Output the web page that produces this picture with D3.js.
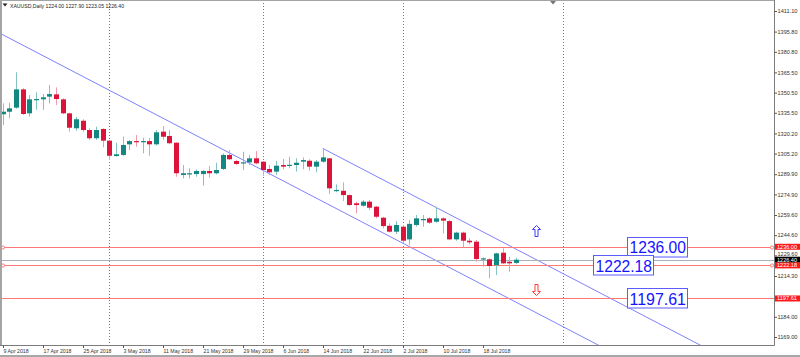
<!DOCTYPE html>
<html><head><meta charset="utf-8">
<script src="https://cdn.jsdelivr.net/npm/d3@7"></script>
<style>html,body{margin:0;padding:0;background:#fff;}svg{display:block;}</style>
</head><body><svg id="c" width="800" height="357"></svg>
<script>
// ---------- data ----------
const dates = [
"9 Apr 2018","10 Apr 2018","11 Apr 2018","12 Apr 2018","13 Apr 2018","16 Apr 2018","17 Apr 2018","18 Apr 2018","19 Apr 2018","20 Apr 2018",
"23 Apr 2018","24 Apr 2018","25 Apr 2018","26 Apr 2018","27 Apr 2018","30 Apr 2018",
"1 May 2018","2 May 2018","3 May 2018","4 May 2018","7 May 2018","8 May 2018","9 May 2018","10 May 2018","11 May 2018","14 May 2018",
"15 May 2018","16 May 2018","17 May 2018","18 May 2018","21 May 2018","22 May 2018","23 May 2018","24 May 2018","25 May 2018","28 May 2018",
"29 May 2018","30 May 2018","31 May 2018",
"1 Jun 2018","4 Jun 2018","5 Jun 2018","6 Jun 2018","7 Jun 2018","8 Jun 2018","11 Jun 2018","12 Jun 2018","13 Jun 2018","14 Jun 2018",
"15 Jun 2018","18 Jun 2018","19 Jun 2018","20 Jun 2018","21 Jun 2018","22 Jun 2018","25 Jun 2018","26 Jun 2018","27 Jun 2018","28 Jun 2018","29 Jun 2018",
"2 Jul 2018","3 Jul 2018","4 Jul 2018","5 Jul 2018","6 Jul 2018","9 Jul 2018","10 Jul 2018","11 Jul 2018","12 Jul 2018","13 Jul 2018",
"16 Jul 2018","17 Jul 2018","18 Jul 2018","19 Jul 2018","20 Jul 2018","23 Jul 2018","24 Jul 2018","25 Jul 2018"];
const opens = [1334.4,1336.3,1339.3,1352.9,1335.1,1345.0,1345.5,1347.5,1349.2,1345.5,
1335.1,1324.0,1329.6,1322.7,1316.6,1323.5,1314.8,1303.4,1304.2,1312.1,
1314.5,1313.6,1314.5,1312.1,1321.5,1318.3,1313.3,1289.3,1289.8,1290.0,
1290.0,1292.3,1290.6,1293.8,1304.2,1299.7,1298.0,1298.7,1301.7,1299.2,
1293.8,1291.8,1296.7,1296.2,1296.7,1299.2,1299.9,1295.5,1299.2,1301.7,
1277.4,1277.6,1274.4,1268.3,1266.5,1269.5,1265.8,1257.6,1251.6,1247.2,
1250.9,1241.5,1252.2,1255.9,1257.1,1254.6,1257.1,1255.1,1241.5,1246.5,
1240.5,1239.8,1226.7,1226.7,1222.4,1231.6,1224.9,1224.00];
const highs = [1342.5,1343.0,1365.6,1353.7,1348.7,1350.7,1349.4,1356.1,1354.4,1346.3,
1335.6,1332.6,1330.7,1324.0,1325.2,1324.0,1315.3,1313.3,1317.7,1315.3,
1319.0,1317.0,1316.6,1322.7,1325.7,1322.7,1313.5,1296.7,1294.3,1293.5,
1293.0,1296.0,1298.4,1305.4,1307.9,1300.4,1306.6,1304.2,1307.1,1299.7,
1296.7,1299.9,1301.2,1302.9,1301.7,1302.4,1301.0,1300.4,1309.1,1301.9,
1282.4,1283.9,1274.8,1269.5,1270.7,1270.7,1266.3,1258.3,1253.4,1255.1,
1252.2,1255.9,1259.6,1259.6,1257.9,1265.8,1257.9,1255.9,1247.2,1247.2,
1242.3,1241.0,1228.2,1227.4,1231.6,1234.9,1228.6,1227.90];
const lows = [1326.4,1331.4,1338.5,1333.9,1332.6,1337.6,1337.6,1342.5,1341.3,1334.6,
1321.5,1322.2,1321.5,1315.3,1315.3,1309.9,1300.4,1302.9,1303.6,1307.9,
1310.3,1305.4,1303.6,1311.1,1315.3,1312.1,1288.0,1286.8,1286.8,1288.0,
1281.4,1287.3,1289.8,1293.0,1300.4,1296.7,1293.0,1296.7,1297.2,1288.6,
1289.3,1289.3,1293.5,1294.3,1291.8,1293.5,1292.5,1291.3,1298.4,1275.2,
1276.5,1270.0,1266.5,1260.9,1265.8,1263.3,1257.1,1249.7,1246.5,1245.5,
1238.6,1237.3,1250.9,1250.9,1253.0,1253.9,1245.9,1240.8,1240.5,1235.6,
1237.8,1224.9,1221.2,1212.6,1215.0,1223.2,1217.5,1223.05];
const closes = [1336.3,1338.8,1352.9,1334.6,1345.5,1345.7,1347.0,1349.4,1345.7,1335.1,
1324.4,1330.7,1322.7,1316.6,1322.7,1314.8,1303.6,1304.7,1311.6,1314.5,
1314.0,1314.5,1312.1,1321.0,1317.7,1312.9,1290.6,1290.6,1290.6,1292.3,
1292.3,1290.6,1293.0,1304.2,1301.0,1297.5,1298.7,1301.7,1298.0,1293.0,
1291.3,1296.2,1295.5,1296.9,1298.4,1300.4,1295.5,1299.2,1302.4,1279.4,
1278.2,1274.4,1267.0,1267.0,1269.5,1265.0,1258.3,1251.4,1247.2,1252.2,
1240.5,1253.0,1257.1,1256.6,1253.9,1257.1,1255.4,1241.5,1246.5,1240.5,
1239.3,1226.9,1227.4,1221.7,1231.1,1223.7,1223.7,1226.40];
const dateTickIdx = [0,6,12,18,24,30,36,42,48,54,60,66,72];
const priceTicks = [1411.10,1395.80,1380.80,1365.50,1350.50,1335.50,1320.20,1305.20,1289.90,1274.90,1259.60,1244.60,1229.60,1214.30,1184.00,1169.00];
const separatorIdx = [16,39,60,84];
const levels = [1236.00,1222.18,1197.61];
const levelLabelIdx = [93.6,88.6,93.6];
const bidPrice = 1226.40;
const headerText = "XAUUSD,Daily 1224.00 1227.90 1223.05 1226.40";
const channelBase = [[0,1393.5],[75,1200.0]];
const channelParallelFrom = [48,1309.1];
const arrowUp = [80,1247.7];
const arrowDown = [80,1203.9];

// ---------- layout ----------
const W=800,H=357, plotR=774, plotB=345;
const svg=d3.select("#c");
const x=d3.scaleLinear().domain([0,77]).range([2.7,516]);
const y=d3.scaleLinear().domain([1169.0,1411.1]).range([337,11]);
const FONT="Liberation Sans, Arial, sans-serif";

svg.append("defs").append("clipPath").attr("id","pc").append("rect")
  .attr("x",2).attr("y",1).attr("width",plotR-2).attr("height",plotB-1);
const plot=svg.append("g").attr("clip-path","url(#pc)");

// period separators
plot.selectAll(".sep").data(separatorIdx).enter().append("line")
  .attr("x1",d=>Math.round(x(d))+0.5).attr("x2",d=>Math.round(x(d))+0.5)
  .attr("y1",0).attr("y2",plotB).attr("stroke","#7a7a7a").attr("stroke-width",1)
  .attr("stroke-dasharray","1,2");

// channel
const slope=(channelBase[1][1]-channelBase[0][1])/(channelBase[1][0]-channelBase[0][0]);
const pA=i=>channelBase[0][1]+slope*(i-channelBase[0][0]);
const pB=i=>channelParallelFrom[1]+slope*(i-channelParallelFrom[0]);
plot.append("line").attr("x1",x(-5)).attr("y1",y(pA(-5))).attr("x2",x(140)).attr("y2",y(pA(140)))
  .attr("stroke","#8080ff").attr("stroke-width",1);
plot.append("line").attr("x1",x(channelParallelFrom[0])).attr("y1",y(pB(channelParallelFrom[0])))
  .attr("x2",x(140)).attr("y2",y(pB(140))).attr("stroke","#8080ff").attr("stroke-width",1);

// bid line
plot.append("line").attr("x1",0).attr("x2",plotR).attr("y1",Math.round(y(bidPrice))+0.5).attr("y2",Math.round(y(bidPrice))+0.5)
  .attr("stroke","#a9b1bd").attr("stroke-width",1);
// level lines
levels.forEach((lv,k)=>{
  const yy=Math.round(y(lv))+0.5;
  plot.append("line").attr("x1",0).attr("x2",plotR).attr("y1",yy).attr("y2",yy)
    .attr("stroke","#ff7878").attr("stroke-width",1);
  if(k<2){
    [3,772].forEach(cx=>plot.append("circle").attr("cx",cx).attr("cy",yy).attr("r",1.6)
      .attr("fill","#fff").attr("stroke","#ff6060").attr("stroke-width",0.8));
  }
});

// candles
const candles=dates.map((d,i)=>({i,o:opens[i],h:highs[i],l:lows[i],c:closes[i]}));
const cg=plot.append("g");
candles.forEach(d=>{
  const xc=Math.round(x(d.i));
  const bull=d.c>=d.o;
  cg.append("line").attr("x1",xc+0.5).attr("x2",xc+0.5).attr("y1",y(d.h)).attr("y2",y(d.l))
    .attr("stroke",bull?"#86c4c1":"#f19aaa").attr("stroke-width",1);
  const yt=Math.min(y(d.o),y(d.c)), hb=Math.max(1.2,Math.abs(y(d.o)-y(d.c)));
  cg.append("rect").attr("x",xc-2).attr("y",yt).attr("width",5).attr("height",hb)
    .attr("fill",bull?"#138781":"#dc143c");
});

// arrows
function arrow(cx,cy,up,col){
  const s=up?1:-1;
  const pts=[[0,-5.5],[4,-1.5],[1.5,-1.5],[1.5,5.5],[-1.5,5.5],[-1.5,-1.5],[-4,-1.5]]
    .map(p=>[cx+p[0],cy+s*p[1]]);
  plot.append("path").attr("d","M"+pts.map(p=>p.join(",")).join("L")+"Z")
    .attr("fill","#fff").attr("stroke",col).attr("stroke-width",1);
}
arrow(Math.round(x(arrowUp[0]))+0.5,y(arrowUp[1]),true,"#3a3aff");
arrow(Math.round(x(arrowDown[0]))+0.5,y(arrowDown[1]),false,"#ff3a3a");

// level labels
levels.forEach((lv,k)=>{
  const bx=Math.round(x(levelLabelIdx[k]))+0.5, by=Math.round(y(lv))-9.5;
  const g=svg.append("g");
  g.append("rect").attr("x",bx).attr("y",by).attr("width",60).attr("height",19.5)
    .attr("fill","#fff").attr("stroke","#5c5cff").attr("stroke-width",1);
  g.append("text").attr("x",bx+2).attr("y",y(lv)+6.3).text(lv.toFixed(2))
    .attr("font-family",FONT).attr("font-size",16.5).attr("fill","#1414ff")
    .attr("textLength",56.5).attr("lengthAdjust","spacingAndGlyphs");
});

// frame
svg.append("rect").attr("x",0).attr("y",0).attr("width",2).attr("height",plotB).attr("fill","#a4a4a4");
svg.append("line").attr("x1",0).attr("x2",plotR).attr("y1",0.5).attr("y2",0.5).attr("stroke","#a4a4a4");
svg.append("line").attr("x1",plotR+0.5).attr("x2",plotR+0.5).attr("y1",0).attr("y2",plotB+0.5).attr("stroke","#7c7c7c");
svg.append("line").attr("x1",0).attr("x2",plotR+0.5).attr("y1",plotB+0.5).attr("y2",plotB+0.5).attr("stroke","#7c7c7c");
svg.append("rect").attr("x",0).attr("y",H-2).attr("width",W).attr("height",2).attr("fill","#a8a8a8");

// right price axis
const ya=svg.append("g").attr("transform",`translate(${plotR+0.5},0)`)
  .call(d3.axisRight(y).tickValues(priceTicks).tickFormat(d3.format(".2f")).tickSize(2.5).tickPadding(0.5));
ya.select(".domain").remove();
ya.selectAll("line").attr("stroke","#555");
ya.selectAll("text").attr("font-family",FONT).attr("font-size",5.6).attr("fill","#333")
  .attr("textLength",20).attr("lengthAdjust","spacingAndGlyphs");
// nudge the label that sits just above the bid box so the box does not cover it
ya.selectAll(".tick").filter(d=>Math.abs(d-bidPrice)<5).select("text").attr("y",-1.8);

// bottom date axis
const xa=svg.append("g").attr("transform",`translate(0,${plotB+0.5})`)
  .call(d3.axisBottom(x).tickValues(dateTickIdx).tickFormat(i=>dates[i]).tickSize(2.5).tickPadding(1));
xa.select(".domain").remove();
xa.selectAll(".tick").attr("transform",d=>`translate(${Math.round(x(d))+0.5},0)`);
xa.selectAll("line").attr("stroke","#555");
xa.selectAll("text").attr("font-family",FONT).attr("font-size",5.2).attr("fill","#333")
  .attr("text-anchor","start").attr("x",0).attr("dy","0.71em");

// price boxes on axis
function priceBox(p,col){
  const yy=y(p);
  svg.append("rect").attr("x",plotR+1).attr("y",yy-3).attr("width",W-plotR-1).attr("height",6).attr("fill",col);
  svg.append("text").attr("x",plotR+3).attr("y",yy+2.0).text(p.toFixed(2))
    .attr("font-family",FONT).attr("font-size",5.4).attr("fill","#fff")
    .attr("textLength",20).attr("lengthAdjust","spacingAndGlyphs");
}
priceBox(bidPrice,"#000");
levels.forEach(lv=>priceBox(lv,"#ff1a1a"));

// header
svg.append("path").attr("d","M2.5,3.5L7.5,3.5L5,6.5Z").attr("fill","#222");
svg.append("text").attr("x",10).attr("y",8.2).text(headerText)
  .attr("font-family",FONT).attr("font-size",5.3).attr("fill","#222")
  .attr("textLength",114).attr("lengthAdjust","spacingAndGlyphs");
// chart shift marker
svg.append("path").attr("d","M550,1L556,1L553,4.5Z").attr("fill","#777");
</script></body></html>
